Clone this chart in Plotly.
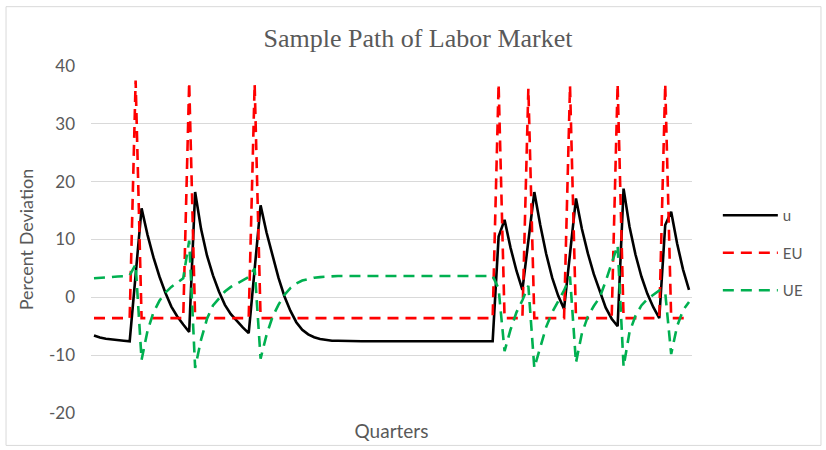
import plotly.graph_objects as go

# Simulated quarterly path: unemployment (u) and the two flow rates (EU, UE),
# all as percent deviations from steady state.
quarters = list(range(101))

u = [
    -6.6, -6.95, -7.15, -7.3, -7.4, -7.5, -7.6, 3.9, 15.4, 10.8,
    6.9, 3.6, 0.8, -1.6, -3.3, -4.7, -6.0, 18.2, 11.8, 7.2,
    3.8, 1.0, -1.3, -2.9, -4.1, -5.2, -6.2, 4.8, 15.9, 11.2,
    7.4, 3.4, 0.2, -2.3, -4.3, -5.6, -6.4, -6.9, -7.2, -7.4,
    -7.5, -7.5, -7.55, -7.55, -7.6, -7.6, -7.6, -7.6, -7.6, -7.6,
    -7.6, -7.6, -7.6, -7.6, -7.6, -7.6, -7.6, -7.6, -7.6, -7.6,
    -7.6, -7.6, -7.6, -7.6, -7.6, -7.6, -7.6, -7.6, 10.5, 13.4,
    8.6, 4.6, 1.3, 9.7, 18.2, 12.5, 7.5, 3.4, 0.3, -2.0,
    8.0, 17.1, 11.8, 7.6, 4.0, 1.0, -1.8, -3.7, -5.0, 18.8,
    12.2, 7.4, 3.6, 0.6, -1.7, -3.6, 12.5, 14.8, 9.3, 4.8,
    1.3,
]

eu = [
    -3.6, -3.6, -3.6, -3.6, -3.6, -3.6, -3.6, 37.5, -3.6, -3.6,
    -3.6, -3.6, -3.6, -3.6, -3.6, -3.6, 37.2, -3.6, -3.6, -3.6,
    -3.6, -3.6, -3.6, -3.6, -3.6, -3.6, -3.6, 36.9, -3.6, -3.6,
    -3.6, -3.6, -3.6, -3.6, -3.6, -3.6, -3.6, -3.6, -3.6, -3.6,
    -3.6, -3.6, -3.6, -3.6, -3.6, -3.6, -3.6, -3.6, -3.6, -3.6,
    -3.6, -3.6, -3.6, -3.6, -3.6, -3.6, -3.6, -3.6, -3.6, -3.6,
    -3.6, -3.6, -3.6, -3.6, -3.6, -3.6, -3.6, -3.6, 36.9, -3.6,
    -3.6, -3.6, -3.6, 36.1, -3.6, -3.6, -3.6, -3.6, -3.6, -3.6,
    36.6, -3.6, -3.6, -3.6, -3.6, -3.6, -3.6, -3.6, 36.9, -3.6,
    -3.6, -3.6, -3.6, -3.6, -3.6, -3.6, 36.9, -3.6, -3.6, -3.6,
    -3.6,
]

ue = [
    3.3, 3.4, 3.5, 3.55, 3.6, 3.65, 3.8, 5.7, -10.8, -5.8,
    -2.6, -0.6, 0.8, 1.8, 2.6, 3.3, 9.8, -12.2, -7.3, -3.7,
    -1.4, -0.1, 1.0, 1.8, 2.4, 3.0, 3.5, 5.0, -10.6, -6.5,
    -3.4, -1.3, 0.4, 1.6, 2.4, 2.9, 3.2, 3.4, 3.5, 3.6,
    3.65, 3.7, 3.7, 3.7, 3.7, 3.7, 3.7, 3.7, 3.7, 3.7,
    3.7, 3.7, 3.7, 3.7, 3.7, 3.7, 3.7, 3.7, 3.7, 3.7,
    3.7, 3.7, 3.7, 3.7, 3.7, 3.7, 3.7, 3.7, 1.5, -9.3,
    -5.6, -2.6, -0.5, 2.0, -12.2, -8.6, -5.1, -2.6, -0.6, 1.2,
    3.6, -11.3, -6.2, -3.3, -1.5, 0.0, 2.8, 5.8, 9.0, -12.0,
    -6.0, -3.2, -1.4, -0.3, 0.5, 1.2, 0.8, -9.8, -5.0, -2.2,
    -0.8,
]

y_ticks = [-20, -10, 0, 10, 20, 30, 40]
y_tick_text = ["-20", "-10", "0", "10", "20", "30", "40"]

TEXT_GRAY = "#595959"
GRID = "#d9d9d9"
FONT = "Lato"

fig = go.Figure()
fig.add_trace(go.Scatter(
    x=quarters, y=u, name="u", mode="lines", legendgroup="u",
    line=dict(color="#000000", width=2.6),
))
fig.add_trace(go.Scatter(
    x=quarters, y=eu, name="EU", mode="lines", legendgroup="eu",
    line=dict(color="#ff0000", width=2.6, dash="11px,7px"),
))
fig.add_trace(go.Scatter(
    x=quarters, y=ue, name="UE", mode="lines", legendgroup="ue",
    line=dict(color="#00b050", width=2.6, dash="11px,7px"),
))

# light frame around the whole chart area
fig.add_shape(
    type="rect", xref="paper", yref="paper",
    x0=-0.1414, x1=1.2146, y0=-0.0934, y1=1.171,
    line=dict(color="#d9d9d9", width=1), fillcolor="rgba(0,0,0,0)",
    layer="below",
)

fig.update_layout(
    width=826, height=450,
    margin=dict(l=91, r=134, t=65.5, b=36.5),
    paper_bgcolor="white", plot_bgcolor="white",
    title=dict(
        text="Sample Path of Labor Market",
        font=dict(family="Liberation Serif", size=26, color=TEXT_GRAY),
        x=418 / 826, xref="container", xanchor="center",
        y=1 - 38 / 450, yref="container", yanchor="middle",
    ),
    xaxis=dict(
        range=[-0.5, 100.5], automargin=False,
        showticklabels=False, showgrid=False, zeroline=False,
        showline=False, ticks="",
        title=dict(text="Quarters", standoff=11,
                   font=dict(family=FONT, size=19, color=TEXT_GRAY)),
    ),
    yaxis=dict(
        range=[-20, 40], tickvals=y_ticks, ticktext=y_tick_text,
        automargin=False,
        showgrid=True, gridcolor=GRID, gridwidth=1.2,
        zeroline=False, showline=False, ticks="",
        tickfont=dict(family=FONT, size=17, color=TEXT_GRAY),
        ticklabelstandoff=15,
        title=dict(text="Percent Deviation", standoff=10,
                   font=dict(family=FONT, size=18, color=TEXT_GRAY)),
    ),
    legend=dict(
        x=1.043, xanchor="left", y=0.461, yanchor="middle",
        font=dict(family=FONT, size=15, color=TEXT_GRAY),
        itemwidth=55, tracegroupgap=15,
        bgcolor="rgba(0,0,0,0)",
    ),
    showlegend=True,
)

fig.write_html("out.html")
